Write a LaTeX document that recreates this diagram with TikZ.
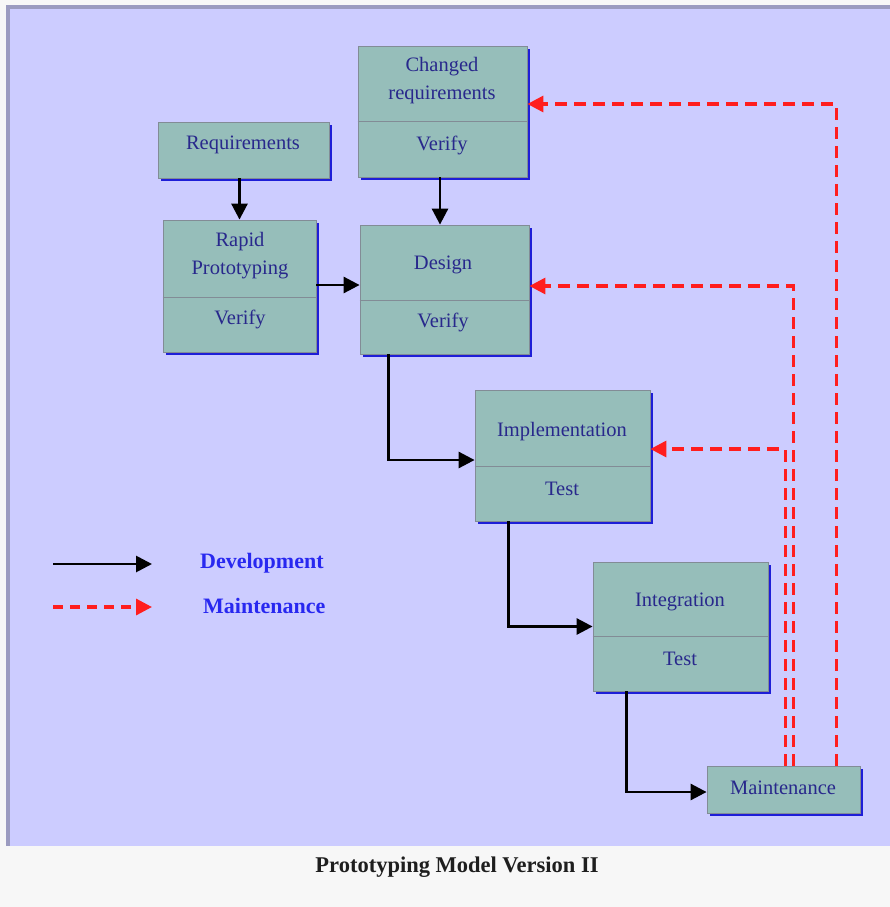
\documentclass[tikz,border=0pt]{standalone}
\usepackage{fontspec}
\setmainfont{Liberation Serif}
\usetikzlibrary{arrows.meta,shadows}

\definecolor{pagebg}{RGB}{247,247,247}
\definecolor{panelbg}{RGB}{204,204,255}
\definecolor{paneledge}{RGB}{155,155,192}
\definecolor{boxfill}{RGB}{150,190,186}
\definecolor{boxline}{RGB}{130,140,150}
\definecolor{boxshadow}{RGB}{30,30,215}
\definecolor{boxtext}{RGB}{40,40,140}
\definecolor{legendtext}{RGB}{40,40,240}
\definecolor{maintred}{RGB}{255,30,30}

\tikzset{
  box/.style={draw=boxline, line width=0.8pt, fill=boxfill, inner sep=0pt,
    general shadow={fill=boxshadow, shadow xshift=3pt, shadow yshift=-3pt}},
  boxlabel/.style={text=boxtext, font=\fontsize{20.5}{24}\selectfont, inner sep=0pt, align=center},
  divider/.style={draw=boxline, line width=0.8pt},
  devarrow/.style={draw=black, line width=2.8pt,
    -{Triangle[length=16pt,width=16pt]}},
  maintarrow/.style={draw=maintred, line width=3.2pt, dash pattern=on 12pt off 7pt,
    -{Triangle[length=16pt,width=16pt,fill=maintred]}},
  legendlabel/.style={text=legendtext, font=\fontsize{22}{24}\bfseries, anchor=west, inner sep=0pt},
}

\begin{document}
\begin{tikzpicture}[x=1pt,y=-1pt]
  \useasboundingbox (0,0) rectangle (890,907);

  % page and panel
  \fill[pagebg] (0,0) rectangle (890,907);
  \fill[paneledge] (6,5) rectangle (890,846);
  \fill[panelbg] (10,9) rectangle (890,846);

  % boxes
  \node[box, minimum width=171pt, minimum height=56pt] (req) at (243.5,150) {};
  \node[box, minimum width=169pt, minimum height=131pt] (chg) at (442.5,111.5) {};
  \node[box, minimum width=153pt, minimum height=132pt] (rapid) at (239.5,286) {};
  \node[box, minimum width=169pt, minimum height=129pt] (design) at (444.5,289.5) {};
  \node[box, minimum width=175pt, minimum height=131pt] (impl) at (562.5,455.5) {};
  \node[box, minimum width=175pt, minimum height=129pt] (integ) at (680.5,626.5) {};
  \node[box, minimum width=153pt, minimum height=47pt] (maint) at (783.5,789.5) {};

  % dividers between the two parts of each box
  \draw[divider] (chg.west |- 0,121) -- (chg.east |- 0,121);
  \draw[divider] (rapid.west |- 0,297) -- (rapid.east |- 0,297);
  \draw[divider] (design.west |- 0,300) -- (design.east |- 0,300);
  \draw[divider] (impl.west |- 0,466) -- (impl.east |- 0,466);
  \draw[divider] (integ.west |- 0,636) -- (integ.east |- 0,636);

  % box texts
  \node[boxlabel] (req-t) at (243,145) {Requirements};
  \node[boxlabel] (chg-t1) at (442,67) {Changed};
  \node[boxlabel] (chg-t2) at (442,95) {requirements};
  \node[boxlabel] (chg-b) at (442,145) {Verify};
  \node[boxlabel] (rapid-t1) at (240,242) {Rapid};
  \node[boxlabel] (rapid-t2) at (240,270) {Prototyping};
  \node[boxlabel] (rapid-b) at (240,319) {Verify};
  \node[boxlabel] (design-t) at (443,265) {Design};
  \node[boxlabel] (design-b) at (443,322) {Verify};
  \node[boxlabel] (impl-t) at (562,432) {Implementation};
  \node[boxlabel] (impl-b) at (562,489) {Test};
  \node[boxlabel] (integ-t) at (680,602) {Integration};
  \node[boxlabel] (integ-b) at (680,659) {Test};
  \node[boxlabel] (maint-t) at (783,788) {Maintenance};

  % development flow
  \draw[devarrow] (rapid.north |- req.south) -- (rapid.north);
  \draw[devarrow] ([xshift=-2.5pt]chg.south) -- ([xshift=-2.5pt]chg.south |- design.north);
  \draw[devarrow] ([yshift=1pt]rapid.east) -- ([yshift=1pt]rapid.east -| design.west);
  \draw[devarrow] ([xshift=29pt]design.south west) |- ([yshift=-4.5pt]impl.west);
  \draw[devarrow] ([xshift=34pt]impl.south west) |- (integ.west);
  \draw[devarrow] ([xshift=34pt]integ.south west) |- ([yshift=-2.5pt]maint.west);

  % maintenance feedback
  \draw[maintarrow] ([xshift=130pt]maint.north west) |- ([yshift=7.5pt]chg.east);
  \draw[maintarrow] ([xshift=87pt]maint.north west) |- ([yshift=3.5pt]design.east);
  \draw[maintarrow] ([xshift=79pt]maint.north west) |- ([yshift=6.5pt]impl.east);

  % legend
  \coordinate (dev-a) at (53,564);
  \coordinate (dev-b) at (152,564);
  \coordinate (mnt-a) at (53,607);
  \coordinate (mnt-b) at (152,607);
  \draw[devarrow] (dev-a) -- (dev-b);
  \draw[maintarrow, dash pattern=on 10pt off 7pt] (mnt-a) -- (mnt-b);
  \node[legendlabel] (dev-l) at (200,563) {Development};
  \node[legendlabel] (mnt-l) at (203,606) {Maintenance};

  % caption
  \node[font=\fontsize{22.5}{24}\bfseries, text={rgb,255:red,30;green,30;blue,30}] (caption) at (457,867) {Prototyping Model Version II};
\end{tikzpicture}
\end{document}
